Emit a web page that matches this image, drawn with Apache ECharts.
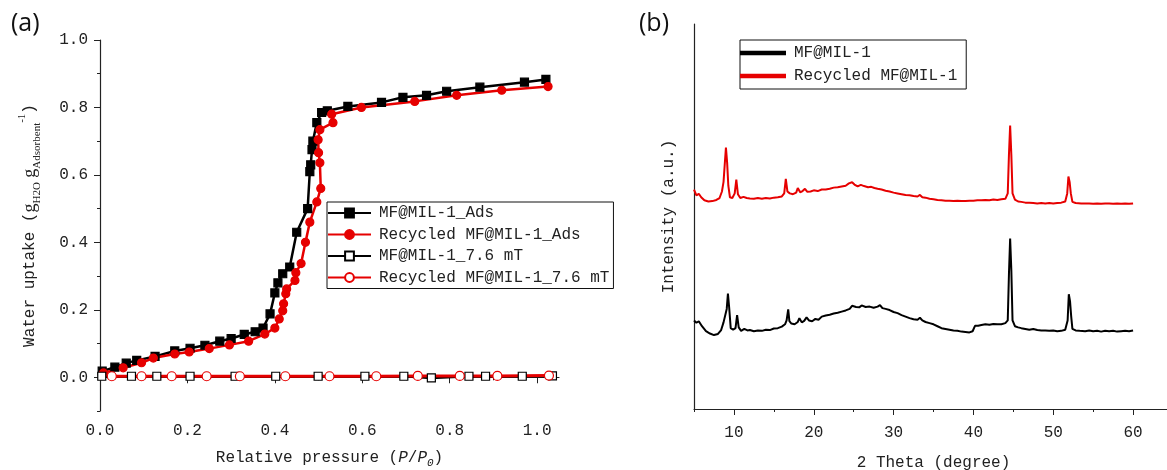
<!DOCTYPE html>
<html>
<head>
<meta charset="utf-8">
<script src="https://cdn.jsdelivr.net/npm/echarts@6.0.0/dist/echarts.min.js"></script>
<style>
html,body{margin:0;padding:0;background:#fff}
#divChart{width:1167px;height:470px}
</style>
</head>
<body>
<div id="divChart"></div>
<script>
// (a) water uptake isotherms, [P/P0, g/g]
var adsMF = [[0.005,0.018],[0.034,0.03],[0.06,0.042],[0.084,0.05],[0.126,0.062],[0.171,0.078],[0.206,0.086],[0.24,0.095],[0.274,0.107],[0.30,0.115],[0.33,0.127],[0.355,0.135],[0.373,0.146],[0.389,0.188],[0.40,0.25],[0.407,0.28],[0.418,0.307],[0.434,0.327],[0.45,0.43],[0.475,0.50],[0.48,0.61],[0.482,0.63],[0.485,0.675],[0.487,0.70],[0.496,0.755],[0.507,0.785],[0.52,0.79],[0.567,0.803],[0.644,0.815],[0.693,0.83],[0.747,0.836],[0.793,0.848],[0.869,0.86],[0.971,0.875],[1.02,0.883]]
var adsRec = [[0.008,0.013],[0.053,0.028],[0.095,0.043],[0.122,0.057],[0.171,0.069],[0.204,0.075],[0.25,0.085],[0.296,0.096],[0.34,0.107],[0.377,0.128],[0.40,0.146],[0.41,0.173],[0.418,0.197],[0.42,0.218],[0.425,0.248],[0.427,0.262],[0.446,0.287],[0.448,0.31],[0.46,0.337],[0.47,0.40],[0.48,0.46],[0.496,0.52],[0.505,0.56],[0.503,0.636],[0.50,0.666],[0.499,0.704],[0.503,0.734],[0.533,0.755],[0.53,0.78],[0.598,0.80],[0.72,0.818],[0.816,0.836],[0.919,0.851],[1.025,0.862]]
var magMF = [[0.004,0.003],[0.072,0.003],[0.13,0.003],[0.206,0.003],[0.309,0.003],[0.402,0.003],[0.499,0.003],[0.606,0.003],[0.695,0.003],[0.758,-0.002],[0.844,0.003],[0.882,0.003],[0.966,0.003],[1.035,0.004]]
var magRec = [[0.027,0.003],[0.095,0.003],[0.164,0.003],[0.244,0.003],[0.32,0.003],[0.424,0.003],[0.525,0.003],[0.632,0.003],[0.727,0.004],[0.823,0.004],[0.909,0.004],[1.027,0.005]]
var namesA = ['MF@MIL-1_Ads','Recycled MF@MIL-1_Ads','MF@MIL-1_7.6 mT','Recycled MF@MIL-1_7.6 mT']
var xTicksA = [0,0.2,0.4,0.6,0.8,1.0]
var xMinorA = [0.1,0.3,0.5,0.7,0.9]
var yTicksA = [0,0.2,0.4,0.6,0.8,1.0]
var yMinorA = [-0.1,0.1,0.3,0.5,0.7,0.9]

// (b) XRD patterns, [2theta, a.u.]
var xrdMF = [[5.0,23.0],[5.3,22.4],[5.6,22.8],[6.0,21.5],[6.5,20.2],[7.0,19.6],[7.5,19.2],[8.0,19.5],[8.4,20.5],[8.7,22.5],[8.9,22.0],[9.1,26.0],[9.25,30.0],[9.4,26.5],[9.6,21.0],[9.9,20.6],[10.2,21.0],[10.4,24.4],[10.6,21.2],[10.9,20.3],[11.3,20.8],[11.7,20.4],[12.0,20.5],[12.5,20.2],[13.0,20.4],[13.5,20.3],[14.0,20.6],[14.5,20.5],[15.0,20.9],[15.5,21.0],[16.0,21.4],[16.4,22.0],[16.6,23.0],[16.8,25.9],[16.95,22.8],[17.2,22.2],[17.6,22.0],[18.0,22.6],[18.2,23.6],[18.5,22.5],[18.8,22.9],[19.1,23.8],[19.4,23.0],[19.8,22.8],[20.2,23.4],[20.6,23.2],[21.0,24.0],[21.5,24.3],[22.0,24.5],[22.5,24.8],[23.0,25.0],[23.5,25.3],[24.0,25.6],[24.5,26.0],[24.8,26.8],[25.0,27.2],[25.3,26.5],[25.7,26.4],[26.0,26.9],[26.5,26.5],[27.0,26.6],[27.5,26.3],[28.0,26.6],[28.3,27.0],[28.6,26.2],[29.0,26.0],[29.5,25.7],[30.0,25.2],[30.5,24.9],[31.0,24.4],[31.5,24.0],[32.0,23.6],[32.5,23.3],[33.0,23.2],[33.3,23.7],[33.6,23.0],[34.0,22.6],[34.5,22.3],[35.0,22.0],[35.5,21.5],[36.0,21.0],[36.5,20.8],[37.0,20.6],[37.5,20.4],[38.0,20.3],[38.5,20.1],[39.0,20.0],[39.5,19.9],[39.9,20.2],[40.2,21.6],[40.6,21.6],[41.0,21.8],[41.5,22.0],[42.0,21.9],[42.5,22.1],[43.0,22.0],[43.5,22.0],[44.0,22.3],[44.3,23.0],[44.45,35.0],[44.6,44.3],[44.75,36.0],[44.9,23.0],[45.2,21.5],[45.6,21.2],[46.0,21.0],[46.5,20.8],[47.0,20.6],[47.5,20.8],[48.0,20.5],[48.5,20.4],[49.0,20.4],[49.5,20.3],[50.0,20.4],[50.5,20.2],[51.0,20.3],[51.5,20.6],[51.8,23.0],[51.95,29.8],[52.1,28.0],[52.25,24.0],[52.4,20.8],[52.8,20.4],[53.3,20.3],[54.0,20.2],[54.5,20.4],[55.0,20.2],[55.5,20.3],[56.0,20.1],[56.5,20.3],[57.0,20.2],[57.5,20.3],[58.0,20.1],[58.5,20.2],[59.0,20.3],[59.5,20.2],[60.0,20.4]]
var xrdRec = [[5.0,57.0],[5.3,55.5],[5.6,55.9],[5.9,55.0],[6.3,54.2],[6.8,53.9],[7.3,54.0],[7.8,54.3],[8.2,54.8],[8.5,56.5],[8.7,59.0],[8.85,63.5],[9.0,67.9],[9.15,64.0],[9.3,58.0],[9.5,55.0],[9.8,54.8],[10.1,56.0],[10.3,59.6],[10.5,55.8],[10.8,54.8],[11.2,55.1],[11.6,54.8],[12.0,54.7],[12.5,54.6],[13.0,54.8],[13.5,54.6],[14.0,54.8],[14.5,54.7],[15.0,54.9],[15.5,55.0],[16.0,55.2],[16.3,56.0],[16.5,59.8],[16.7,56.5],[17.0,56.0],[17.4,55.8],[17.8,56.2],[18.0,57.4],[18.3,56.3],[18.6,56.6],[18.9,57.2],[19.2,56.4],[19.6,56.5],[20.0,56.8],[20.5,56.6],[21.0,57.0],[21.5,57.0],[22.0,57.2],[22.5,57.5],[23.0,57.6],[23.5,57.8],[24.0,58.0],[24.4,58.6],[24.8,58.9],[25.1,58.3],[25.5,57.8],[25.9,58.2],[26.3,57.9],[26.8,57.6],[27.2,57.7],[27.6,57.4],[28.0,57.2],[28.5,57.0],[29.0,56.7],[29.5,56.5],[30.0,56.2],[30.5,56.0],[31.0,55.8],[31.5,55.6],[32.0,55.5],[32.5,55.3],[33.0,55.2],[33.3,55.6],[33.6,55.0],[34.0,54.9],[34.5,54.6],[35.0,54.5],[35.5,54.3],[36.0,54.2],[36.5,54.1],[37.0,54.1],[37.5,54.0],[38.0,54.1],[38.5,54.0],[39.0,54.0],[39.5,54.1],[40.0,54.1],[40.5,54.2],[41.0,54.2],[41.5,54.3],[42.0,54.2],[42.5,54.4],[43.0,54.3],[43.5,54.5],[44.0,54.6],[44.3,56.0],[44.45,66.0],[44.6,73.6],[44.75,66.0],[44.9,56.0],[45.2,54.4],[45.6,53.9],[46.0,53.8],[46.5,53.6],[47.0,53.6],[47.5,53.5],[48.0,53.4],[48.5,53.5],[49.0,53.4],[49.5,53.5],[50.0,53.4],[50.5,53.5],[51.0,53.6],[51.5,53.9],[51.75,56.0],[51.9,60.4],[52.05,59.0],[52.2,56.0],[52.4,53.8],[52.8,53.5],[53.5,53.4],[54.0,53.4],[54.5,53.4],[55.0,53.3],[55.5,53.4],[56.0,53.3],[56.5,53.4],[57.0,53.4],[57.5,53.3],[58.0,53.4],[58.5,53.3],[59.0,53.4],[59.5,53.3],[60.0,53.4]]
var namesB = ['MF@MIL-1','Recycled MF@MIL-1']
var xTicksB = [10,20,30,40,50,60]
var xMinorB = [5,15,25,35,45,55,65]

var RED = '#e60000', INK = '#222', MONO = 'Liberation Mono'
var txt = {fontFamily:MONO, fontSize:16, color:INK}
var axLine = {show:true, lineStyle:{color:INK, width:1.2}}

//major axis: labels + long ticks; minor axis: short ticks only
var major = (o,ticks,fmt,mg)=>Object.assign({type:'value', splitLine:{show:false}, axisLine:axLine,
  axisTick:{show:true, length:6, customValues:ticks, lineStyle:{color:INK}},
  axisLabel:{show:true, customValues:ticks, formatter:fmt, fontFamily:MONO, fontSize:16, color:INK, margin:mg}}, o)
var minor = (o,ticks)=>Object.assign({type:'value', splitLine:{show:false}, axisLine:{show:false},
  axisTick:{show:true, length:3, customValues:ticks, lineStyle:{color:INK}},
  axisLabel:{show:false}}, o)
var f1 = v=>v.toFixed(1)

var lineS = (name,data,color,sym,fill,w,sz,xi,yi)=>({
  name:name, type:'line', data:data, xAxisIndex:xi, yAxisIndex:yi,
  symbol:sym, symbolSize:sz, showSymbol:sym!='none',
  lineStyle:{color:color, width:w},
  itemStyle:{color:fill, borderColor:color, borderWidth:1.2},
  emphasis:{disabled:true}, animation:false, z:3
})

var opt = {
  backgroundColor:'#fff',
  animation:false,
  title:[
    {text:'(a)', left:6, top:6, textStyle:{fontFamily:'Open Sans', fontSize:25, fontWeight:'normal', color:'#111'}},
    {text:'(b)', left:634, top:6, textStyle:{fontFamily:'Open Sans', fontSize:25, fontWeight:'normal', color:'#111'}}
  ],
  legend:[
    {data:namesA, left:327, top:202, orient:'vertical', itemWidth:43, itemHeight:11, itemGap:5.5,
     padding:[3,4,3,0], borderColor:'#111', borderWidth:1, textStyle:Object.assign({padding:[0,0,0,3]}, txt)},
    {data:namesB, left:740, top:40, orient:'vertical', icon:'rect', itemWidth:44, itemHeight:2.5, itemGap:7,
     padding:[5,9,5,0], borderColor:'#111', borderWidth:1, textStyle:Object.assign({padding:[0,0,0,4]}, txt)}
  ],
  grid:[
    {left:100, top:40, right:608, bottom:59, outerBoundsMode:'none'},
    {left:694, top:24, right:-6, bottom:61, outerBoundsMode:'none'}
  ],
  xAxis:[
    major({gridIndex:0, min:0, max:1.05, position:'bottom',
      name:'{n|Relative pressure (}{i|P}{n|/}{i|P}{is|0}{n|)}', nameLocation:'middle', nameGap:36,
      nameTextStyle:{rich:{n:{fontFamily:MONO, fontSize:16, color:INK, lineHeight:22},
        i:{fontFamily:MONO, fontSize:16, fontStyle:'italic', color:INK, lineHeight:22},
        is:{fontFamily:MONO, fontSize:11, fontStyle:'italic', color:INK, lineHeight:12, verticalAlign:'bottom'}}}
    }, xTicksA, f1, 12),
    minor({gridIndex:0, min:0, max:1.05, position:'bottom'}, xMinorA),
    major({gridIndex:1, min:5, max:65, position:'bottom',
      name:'2 Theta (degree)', nameLocation:'middle', nameGap:46, nameTextStyle:txt
    }, xTicksB, v=>''+v, 16),
    minor({gridIndex:1, min:5, max:65, position:'bottom'}, xMinorB)
  ],
  yAxis:[
    major({gridIndex:0, min:-0.1, max:1.0, position:'left',
      name:'{n|Water uptake (}{g|g}{s|H2O}{g| g}{s|Adsorbent}{p|-1}{n|)}', nameLocation:'middle', nameGap:57,
      nameTextStyle:{rich:{n:{fontFamily:MONO, fontSize:16, color:INK, lineHeight:26},
        g:{fontFamily:'Liberation Serif', fontSize:18, color:INK, lineHeight:26},
        s:{fontFamily:'Liberation Serif', fontSize:11, color:INK, lineHeight:14, verticalAlign:'bottom'},
        p:{fontFamily:'Liberation Serif', fontSize:11, color:INK, lineHeight:12, verticalAlign:'top'}}}
    }, yTicksA, f1, 12),
    minor({gridIndex:0, min:-0.1, max:1.0, position:'left'}, yMinorA),
    {type:'value', gridIndex:1, min:0, max:100, position:'left', splitLine:{show:false}, axisLine:axLine,
      axisTick:{show:false}, axisLabel:{show:false},
      name:'Intensity (a.u.)', nameLocation:'middle', nameGap:17, nameTextStyle:txt}
  ],
  series:[
    lineS(namesA[0], adsMF, '#000', 'rect', '#000', 2.5, 8, 0, 0),
    lineS(namesA[1], adsRec, RED, 'circle', RED, 2.5, 8, 0, 0),
    lineS(namesA[2], magMF, '#000', 'rect', '#fff', 2.5, 8, 0, 0),
    lineS(namesA[3], magRec, RED, 'circle', '#fff', 3, 9, 0, 0),
    lineS(namesB[0], xrdMF, '#000', 'none', '#000', 2, 0, 2, 2),
    lineS(namesB[1], xrdRec, RED, 'none', RED, 2, 0, 2, 2)
  ]
}

var chart = echarts.init(document.getElementById('divChart'), null, {renderer:'canvas'})
chart.setOption(opt)
</script>
</body>
</html>
